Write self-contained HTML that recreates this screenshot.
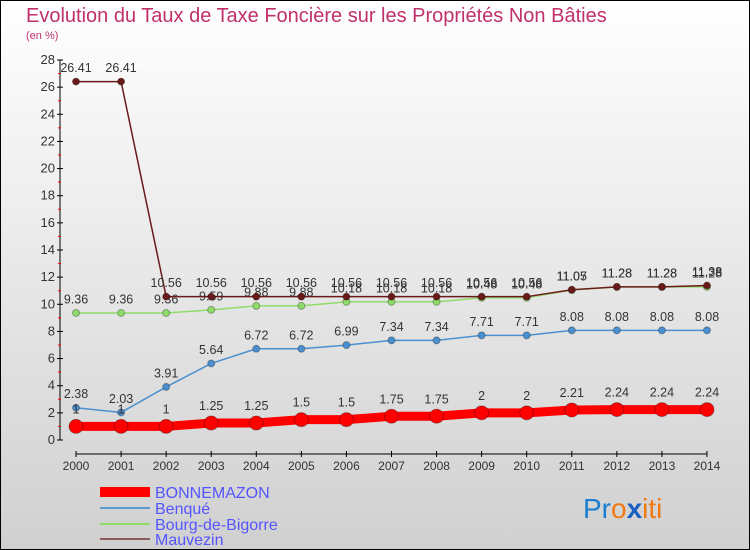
<!DOCTYPE html>
<html><head><meta charset="utf-8"><style>
body{margin:0}
#c{width:750px;height:550px;position:relative;box-sizing:border-box;border:1px solid #000;background:linear-gradient(#fff,#d0d0d0);overflow:hidden;font-family:"Liberation Sans","DejaVu Sans",sans-serif}
</style></head><body>
<div id="c">
<svg id="s" width="750" height="550" style="position:absolute;left:-1px;top:-1px">
<text x="26" y="22" font-size="20" fill="#c0306a">Evolution du Taux de Taxe Foncière sur les Propriétés Non Bâties</text>
<text x="26" y="39" font-size="11" fill="#c0306a">(en %)</text>
<g id="g"></g>
<g>
<line x1="100" y1="492" x2="150" y2="492" stroke="#f00" stroke-width="10"/>
<text x="155" y="498" font-size="16" fill="#55f">BONNEMAZON</text>
<line x1="100" y1="508" x2="150" y2="508" stroke="#5a9ad0" stroke-width="2"/>
<text x="155" y="514" font-size="16" fill="#55f">Benqué</text>
<line x1="100" y1="524" x2="150" y2="524" stroke="#8fdc6a" stroke-width="2"/>
<text x="155" y="530" font-size="16" fill="#55f">Bourg-de-Bigorre</text>
<line x1="100" y1="539" x2="150" y2="539" stroke="#8b5a5a" stroke-width="2"/>
<text x="155" y="545" font-size="16" fill="#55f">Mauvezin</text>
</g>
<text x="583" y="518" font-size="28"><tspan fill="#1a7fd0">Pr</tspan><tspan fill="#f07a10">o</tspan><tspan fill="#1a60c0" font-weight="bold">x</tspan><tspan fill="#f07a10">iti</tspan></text>
</svg>
</div>
<script>
const years=[2000,2001,2002,2003,2004,2005,2006,2007,2008,2009,2010,2011,2012,2013,2014];
const bonnemazon=[1,1,1,1.25,1.25,1.5,1.5,1.75,1.75,2,2,2.21,2.24,2.24,2.24];
const benque=[2.38,2.03,3.91,5.64,6.72,6.72,6.99,7.34,7.34,7.71,7.71,8.08,8.08,8.08,8.08];
const bourg=[9.36,9.36,9.36,9.59,9.88,9.88,10.18,10.18,10.18,10.48,10.48,11.05,11.28,11.28,11.28];
const mauvezin=[26.41,26.41,10.56,10.56,10.56,10.56,10.56,10.56,10.56,10.56,10.56,11.07,11.28,11.28,11.38];
const yTicks=[0,2,4,6,8,10,12,14,16,18,20,22,24,26,28];
const NS='http://www.w3.org/2000/svg';
const g=document.getElementById('g');
const X=i=>76+i*(707-76)/(years.length-1);
const Y=v=>440-v*(380/28);
function el(t,a){const e=document.createElementNS(NS,t);for(const k in a)e.setAttribute(k,a[k]);g.appendChild(e);return e;}
let e=el('line',{x1:60,y1:60,x2:60,y2:440,stroke:'#000'});


e=el('line',{x1:76,y1:454,x2:707,y2:454,stroke:'#000'});


yTicks.forEach(v=>{
 let l=el('line',{x1:57,x2:63,y1:Y(v),y2:Y(v),stroke:'#000'});
 
 
 if(v<28){let m=el('line',{x1:58,x2:61,y1:Y(v+1),y2:Y(v+1),stroke:'#f00'});
 
 }
 let t=el('text',{x:55,y:Y(v)+4,'text-anchor':'end','font-size':13,fill:'#333'});t.textContent=v;
 
 
});
years.forEach((y,i)=>{
 let l=el('line',{x1:X(i),x2:X(i),y1:451,y2:457,stroke:'#000'});
 
 
 let t=el('text',{x:X(i),y:470,'text-anchor':'middle','font-size':12,fill:'#333'});t.textContent=y;
 
 
});
function series(name,d,color,w,r){
 let p=el('polyline',{points:d.map((v,i)=>X(i)+','+Y(v)).join(' '),fill:'none',stroke:color,'stroke-width':w});
 
 
 d.forEach((v,i)=>{
  let c=el('circle',{cx:X(i),cy:Y(v),r:r,fill:color,stroke:'rgba(0,0,0,0.3)'});
  
  
  let t=el('text',{x:X(i),y:Y(v)-(r+6),'text-anchor':'middle','font-size':12.5,fill:'#333'});t.textContent=v;
  
  
 });
}
series('benque',benque,'#4a90d0',1.5,3.5);
series('bourg',bourg,'#8fdc6a',1.5,3.5);
series('mauvezin',mauvezin,'#6b1a1a',1.5,3.5);
series('bonnemazon',bonnemazon,'#f00',9,7);
</script>
</body></html>
